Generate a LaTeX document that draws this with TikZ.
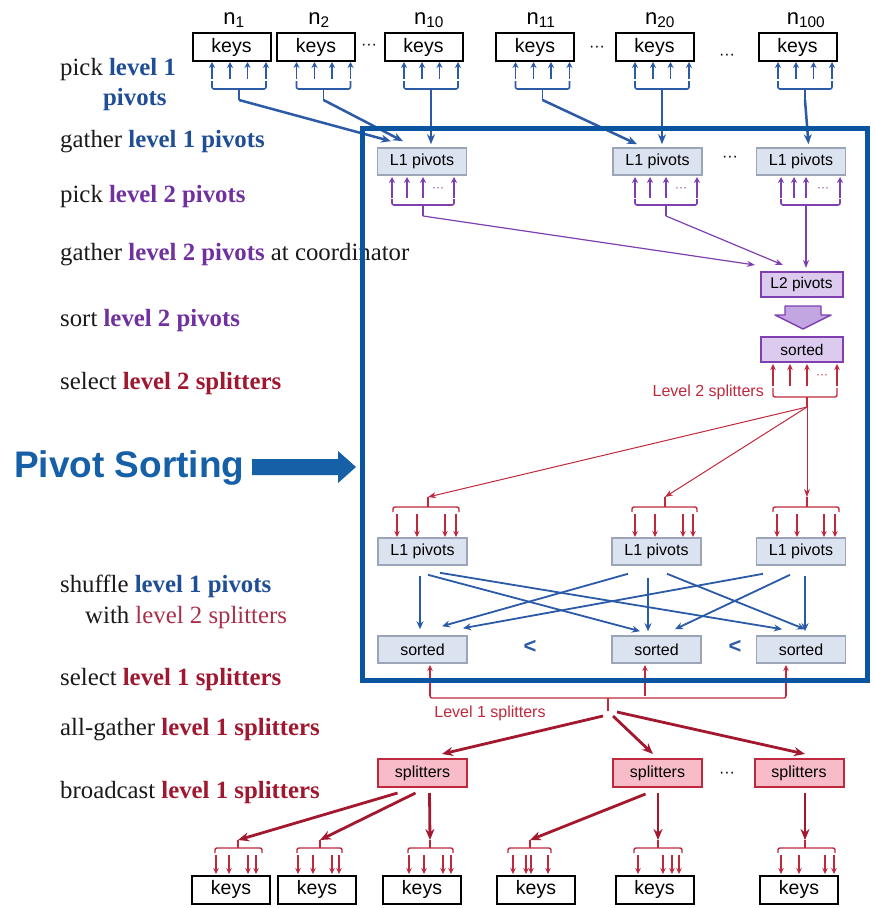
\documentclass[tikz,border=0pt]{standalone}
\usepackage{fontspec}
\setmainfont{Liberation Serif}
\setsansfont{Liberation Sans}
\usetikzlibrary{arrows.meta}

\definecolor{frameblue}{HTML}{0B55A0}
\definecolor{titleblue}{HTML}{1660A8}
\definecolor{lvlblue}{HTML}{1F4E96}
\definecolor{lvlpurple}{HTML}{7030A0}
\definecolor{lvlred}{HTML}{A01830}
\definecolor{softred}{HTML}{A8304A}
\definecolor{lineblue}{HTML}{2B5AA6}
\definecolor{linepurple}{HTML}{7E40B0}
\definecolor{linered}{HTML}{C0283E}
\definecolor{darkred}{HTML}{A3182F}
\definecolor{pivfill}{HTML}{DCE3F0}
\definecolor{pivdraw}{HTML}{9CA5B8}
\definecolor{lavfill}{HTML}{DCCBEE}
\definecolor{lavarrow}{HTML}{C2A6E2}
\definecolor{pinkfill}{HTML}{F7BCC7}
\definecolor{inktext}{HTML}{1A1A1A}

\newcommand\lvone[1]{\textcolor{lvlblue}{\textbf{#1}}}
\newcommand\lvtwo[1]{\textcolor{lvlpurple}{\textbf{#1}}}
\newcommand\lvred[1]{\textcolor{lvlred}{\textbf{#1}}}

\begin{document}
\begin{tikzpicture}[x=1pt,y=-1pt,
  keysbox/.style={draw=black,line width=2pt,fill=white,minimum width=78pt,minimum height=28pt,inner sep=0pt,font=\sffamily\fontsize{19.5}{21}\selectfont},
  pivbox/.style={draw=pivdraw,line width=1.6pt,fill=pivfill,minimum width=89pt,minimum height=27pt,inner sep=0pt,font=\sffamily\fontsize{16}{17}\selectfont},
  lavbox/.style={draw=linepurple,line width=2pt,fill=lavfill,minimum width=82pt,minimum height=25pt,inner sep=0pt,font=\sffamily\fontsize{15.5}{17}\selectfont},
  splbox/.style={draw=linered,line width=2pt,fill=pinkfill,minimum width=89pt,minimum height=28pt,inner sep=0pt,font=\sffamily\fontsize{16}{17}\selectfont},
  steptext/.style={anchor=base west,inner sep=0pt,font=\fontsize{24.8}{28}\selectfont,text=inktext},
  nlabel/.style={inner sep=0pt,font=\sffamily\fontsize{22}{24}\selectfont},
  dotsy/.style={inner sep=0pt,font=\sffamily\fontsize{16}{18}\selectfont},
  smalldots/.style={inner sep=0pt,font=\sffamily\fontsize{12}{12}\selectfont},
  redlabel/.style={inner sep=0pt,font=\sffamily\fontsize{16}{18}\selectfont,text=linered},
  bluetick/.style={draw=lineblue,line width=1.6pt,-{Stealth[length=6pt,width=6pt]}},
  bluebr/.style={draw=lineblue,line width=1.6pt,rounded corners=2pt},
  bluelink/.style={draw=lineblue,line width=2.5pt,-{Stealth[length=10pt,width=8pt]}},
  crosslink/.style={draw=lineblue,line width=1.8pt,-{Stealth[length=8pt,width=7pt]}},
  purtick/.style={draw=linepurple,line width=1.7pt,-{Stealth[length=6pt,width=6pt]}},
  purbr/.style={draw=linepurple,line width=1.6pt,rounded corners=2pt},
  purlink/.style={draw=linepurple,line width=1.2pt,-{Stealth[length=8pt,width=6pt]}},
  redtick/.style={draw=linered,line width=1.5pt,-{Stealth[length=6pt,width=5.5pt]}},
  redbr/.style={draw=linered,line width=1.4pt,rounded corners=2pt},
  redlink/.style={draw=linered,line width=1pt,-{Stealth[length=8pt,width=6pt]}},
  thicklink/.style={draw=darkred,line width=2.8pt,-{Stealth[length=11pt,width=9pt]}}
]
\fill[white] (0,0) rectangle (875,908);
\useasboundingbox (0,0) rectangle (875,908);

% ---------- step descriptions on the left ----------
\node[steptext] (t1)  at (60,75)  {pick \lvone{level 1}};
\node[steptext] (t1b) at (103,105) {\lvone{pivots}};
\node[steptext] (t2)  at (60,147) {gather \lvone{level 1 pivots}};
\node[steptext] (t3)  at (60,202) {pick \lvtwo{level 2 pivots}};
\node[steptext] (t4)  at (60,260) {gather \lvtwo{level 2 pivots} at coordinator};
\node[steptext] (t5)  at (60,326) {sort \lvtwo{level 2 pivots}};
\node[steptext] (t6)  at (60,389) {select \lvred{level 2 splitters}};
\node[steptext] (t7)  at (60,592) {shuffle \lvone{level 1 pivots}};
\node[steptext] (t7b) at (85,623) {with \textcolor{softred}{level 2 splitters}};
\node[steptext] (t8)  at (60,685) {select \lvred{level 1 splitters}};
\node[steptext] (t9)  at (60,735) {all-gather \lvred{level 1 splitters}};
\node[steptext] (t10) at (60,798) {broadcast \lvred{level 1 splitters}};

% ---------- top row: keys of the nodes ----------
\node[keysbox] (k1) at (231.5,47) {keys};
\node[keysbox] (k2) at (316,47)   {keys};
\node[keysbox] (k3) at (423.5,47) {keys};
\node[keysbox] (k4) at (535,47)   {keys};
\node[keysbox] (k5) at (654.5,47) {keys};
\node[keysbox] (k6) at (797.5,47) {keys};
\node[nlabel] (n1)   at (234,20) {n\textsubscript{1}};
\node[nlabel] (n2)   at (319,20) {n\textsubscript{2}};
\node[nlabel] (n10)  at (429,20) {n\textsubscript{10}};
\node[nlabel] (n11)  at (541,20) {n\textsubscript{11}};
\node[nlabel] (n20)  at (660,20) {n\textsubscript{20}};
\node[nlabel] (n100) at (806,20) {n\textsubscript{100}};
\node[dotsy] (d1) at (369,47) {···};
\node[dotsy] (d2) at (597,49) {···};
\node[dotsy] (d3) at (727,57) {···};

\foreach \c/\s in {231.5/s1,316/s2,423.5/s3,535/s4,654.5/s5,797.5/s6}{
  \foreach \d in {-19.5,-1.5,16,34.5} \draw[bluetick] (\c+\d,79) -- (\c+\d,62);
  \draw[bluebr] (\c-19.5,81) -- (\c-19.5,89) -- (\c+34.5,89) -- (\c+34.5,81);
  \draw[bluebr] (\c+7.5,89) -- (\c+7.5,100) coordinate (\s);
}

% ---------- level 1 pivots gathered ----------
\node[pivbox] (pa) at (422,161.5)   {L1 pivots};
\node[pivbox] (pb) at (657.5,161.5) {L1 pivots};
\node[pivbox] (pc) at (801,161.5)   {L1 pivots};
\node[dotsy] (d4) at (730,159) {···};

\draw[bluelink] (s1) -- ([shift={(-31,-6)}]pa.north);
\draw[bluelink] (s2) -- ([shift={(-19,-6)}]pa.north);
\draw[bluelink] (s3) -- ([shift={(9,-3)}]pa.north);
\draw[bluelink] (s4) -- ([shift={(-20.5,-3)}]pb.north);
\draw[bluelink] (s5) -- ([shift={(4.5,-3)}]pb.north);
\draw[bluelink] (s6) -- ([shift={(7.5,-3)}]pc.north);

% level 2 pivots picked from each L1 pivot set
\foreach \xa/\xb/\xc/\xd/\xm/\q in {392/407/423/454/438/qa, 635/650/666/697/681/qb, 781/794/806/840/823/qc}{
  \foreach \x in {\xa,\xb,\xc,\xd} \draw[purtick] (\x,198) -- (\x,177);
  \node[smalldots,text=linepurple] at (\xm,190) {···};
  \draw[purbr] (\xa,199) -- (\xa,205) -- (\xd,205) -- (\xd,199);
  \draw[purbr] (\xc,205) -- (\xc,216) coordinate (\q);
}

% ---------- coordinator ----------
\node[lavbox] (l2) at (801.5,284.5) {L2 pivots};
\node[lavbox] (ls) at (802,349.5)   {sorted};
\draw[purlink] (qa) -- ([shift={(-46.5,-6)}]l2.north);
\draw[purlink] (qb) -- ([shift={(-18.5,-6)}]l2.north);
\draw[purlink] (qc) -- ([shift={(4.5,-3)}]l2.north);
\filldraw[draw=linepurple,fill=lavarrow,line width=1.4pt,line join=round]
  (785,306) -- (821,306) -- (821,315) -- (831,315) -- (803,329) -- (775,315) -- (785,315) -- cycle;

\foreach \x in {773,790,807,837} \draw[redtick] (\x,386) -- (\x,364);
\node[smalldots,text=linered] at (822,377) {···};
\draw[redbr] (773,388) -- (773,397) -- (837,397) -- (837,388);
\draw[redbr] (807,397) -- (807,407) coordinate (r2);
\node[redlabel,anchor=east] (lab2) at (764,392) {Level 2 splitters};

% ---------- level 2 splitters sent back ----------
\foreach \l/\r/\m/\xa/\xb/\xc/\xd/\nm in {393/459/428/397/417/445/456/ta, 632/697/665/635/655/683/693/tb, 773/839/807/777/797/824/835/tc}{
  \draw[redbr] (\l,512) -- (\l,507) -- (\r,507) -- (\r,512);
  \draw[redbr] (\m,507) -- (\m,497) coordinate (\nm);
  \foreach \x in {\xa,\xb,\xc,\xd} \draw[redtick] (\x,514) -- (\x,537);
}
\draw[redlink] (r2) -- (ta);
\draw[redlink] (r2) -- (tb);
\draw[redlink] (r2) -- (tc);

\node[pivbox] (la) at (422.5,551.5) {L1 pivots};
\node[pivbox] (lb) at (656.5,551.5) {L1 pivots};
\node[pivbox] (lc) at (801,551.5)   {L1 pivots};
\node[pivbox] (sa) at (422.5,649.5) {sorted};
\node[pivbox] (sb) at (656.5,649.5) {sorted};
\node[pivbox] (sc) at (801,649.5)   {sorted};
\node[inner sep=0pt,font=\sffamily\bfseries\fontsize{22}{22}\selectfont,text=lineblue] (lt1) at (530,647) {<};
\node[inner sep=0pt,font=\sffamily\bfseries\fontsize{22}{22}\selectfont,text=lineblue] (lt2) at (735,647) {<};

% shuffle of level 1 pivots
\draw[crosslink] ([shift={(-2.5,10)}]la.south) -- ([shift={(-2.5,-6)}]sa.north);
\draw[crosslink] ([shift={(5.5,9)}]la.south)   -- ([shift={(-16.5,-4)}]sb.north);
\draw[crosslink] ([shift={(17.5,7)}]la.south)  -- ([shift={(-19,-6)}]sc.north);
\draw[crosslink] ([shift={(-28.5,8)}]lb.south) -- ([shift={(19.5,-9)}]sa.north);
\draw[crosslink] ([shift={(-8.5,12)}]lb.south) -- ([shift={(-8.5,-4)}]sb.north);
\draw[crosslink] ([shift={(10.5,8)}]lb.south)  -- ([shift={(4,-6)}]sc.north);
\draw[crosslink] ([shift={(-38,8)}]lc.south)   -- ([shift={(40.5,-7)}]sa.north);
\draw[crosslink] ([shift={(-11,9)}]lc.south)   -- ([shift={(18.5,-6)}]sb.north);
\draw[crosslink] ([shift={(4,10)}]lc.south)    -- ([shift={(4,-4)}]sc.north);

% level 1 splitters selected from the sorted runs
\foreach \x in {430,645,786} \draw[redtick] (\x,696) -- (\x,665);
\draw[redbr] (430,686) -- (430,698) -- (786,698) -- (786,686);
\draw[redbr] (608,698) -- (608,711) coordinate (u);
\node[redlabel] (lab1) at (490,713) {Level 1 splitters};

% ---------- pivot sorting frame ----------
\draw[frameblue,line width=5pt] (362.5,128) rectangle (867.5,680);
\node[anchor=base west,inner sep=0pt,font=\sffamily\bfseries\fontsize{37}{40}\selectfont,text=titleblue] (ps) at (14,477) {Pivot Sorting};
\fill[titleblue] (252,459) -- (338,459) -- (338,451) -- (356,467) -- (338,483) -- (338,475) -- (252,475) -- cycle;

% ---------- all-gather and broadcast ----------
\node[splbox] (spa) at (422.5,773) {splitters};
\node[splbox] (spb) at (657.5,773) {splitters};
\node[splbox] (spc) at (799,773)   {splitters};
\node[dotsy] (d5) at (727,775) {···};
\draw[thicklink] ([shift={(-5,5)}]u) -- ([shift={(19.5,-4)}]spa.north);
\draw[thicklink] ([shift={(5,5)}]u)  -- ([shift={(-4.5,-4)}]spb.north);
\draw[thicklink] ([shift={(9,1)}]u)  -- ([shift={(6,-4)}]spc.north);

\foreach \l/\r/\m/\xa/\xb/\xc/\xd/\nm in {215/262/238/216/229/248/256/ba, 297/342/320/298/313/332/339/bb, 408/453/430/409/424/443/451/bc, 508/551/530/513/526/531/548/bd, 634/682/658/638/663/672/679/be, 778/835/805/781/799/825/834/bf}{
  \draw[redbr] (\l,853) -- (\l,848) -- (\r,848) -- (\r,853);
  \draw[redbr] (\m,848) -- (\m,840) coordinate (\nm);
  \foreach \x in {\xa,\xb,\xc,\xd} \draw[redtick] (\x,855) -- (\x,874);
}
\draw[thicklink] ([shift={(-25,5)}]spa.south) -- (ba);
\draw[thicklink] ([shift={(-7,5)}]spa.south)  -- (bb);
\draw[thicklink] ([shift={(7,5)}]spa.south)   -- (bc);
\draw[thicklink] ([shift={(-12,6)}]spb.south) -- (bd);
\draw[thicklink] ([shift={(0.5,5)}]spb.south) -- (be);
\draw[thicklink] ([shift={(6,5)}]spc.south)   -- (bf);

\node[keysbox] (b1) at (231,889.5)   {keys};
\node[keysbox] (b2) at (317,889.5)   {keys};
\node[keysbox] (b3) at (422,889.5)   {keys};
\node[keysbox] (b4) at (536,889.5)   {keys};
\node[keysbox] (b5) at (654.5,889.5) {keys};
\node[keysbox] (b6) at (799,889.5)   {keys};
\end{tikzpicture}
\end{document}
